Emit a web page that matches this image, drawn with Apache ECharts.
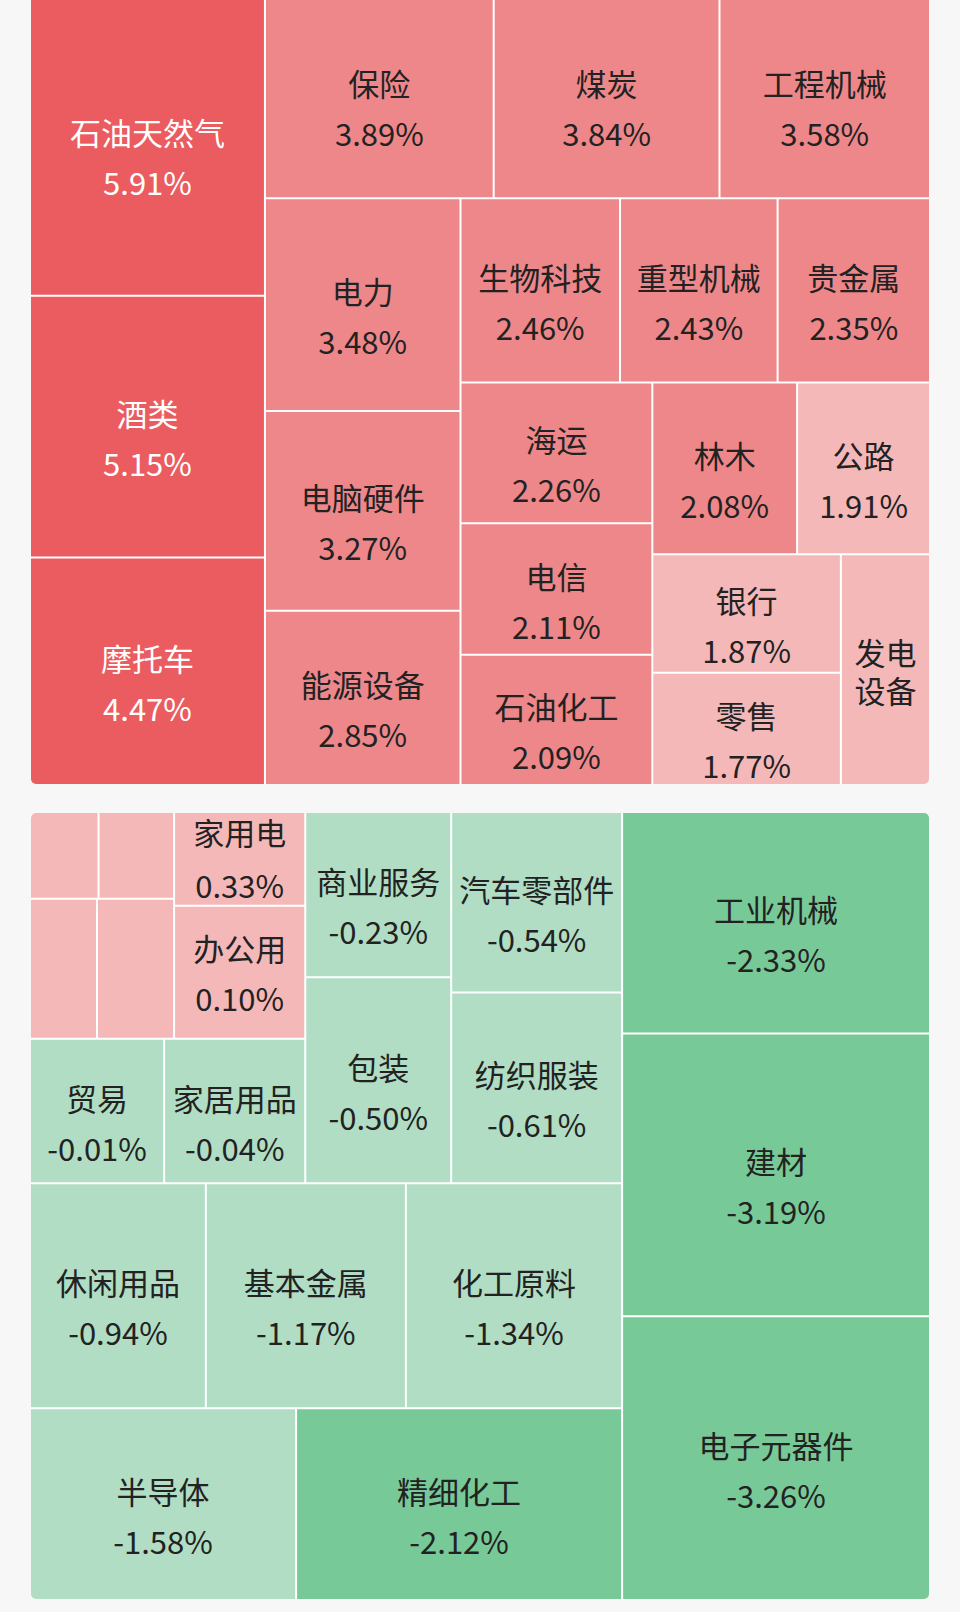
<!DOCTYPE html>
<html>
<head>
<meta charset="utf-8">
<script src="https://cdn.jsdelivr.net/npm/echarts@6/dist/echarts.min.js"></script>
<style>
  html, body { margin: 0; padding: 0; background: #f7f7f7; width: 960px; height: 1612px; overflow: hidden; }
  .box { position: absolute; left: 31px; width: 898px; border-radius: 5px; overflow: hidden; }
  #up { top: -4px; height: 788px; }
  #down { top: 813px; height: 786px; }
</style>
</head>
<body>
<div id="up" class="box"></div>
<div id="down" class="box"></div>
<script>
// ---------- Top map: sectors with the biggest gains (tile size = % change) ----------
const gainNames = ['石油天然气', '酒类', '摩托车', '保险', '煤炭', '工程机械', '电力', '电脑硬件', '能源设备',
  '生物科技', '重型机械', '贵金属', '海运', '电信', '石油化工', '林木', '公路', '银行', '零售', '发电设备'];
const gainPct = [5.91, 5.15, 4.47, 3.89, 3.84, 3.58, 3.48, 3.27, 2.85,
  2.46, 2.43, 2.35, 2.26, 2.11, 2.09, 2.08, 1.91, 1.87, 1.77, 1.72];

// ---------- Bottom map: the rest (tile size = weight) ----------
const restNames = ['工业机械', '建材', '电子元器件', '半导体', '精细化工', '休闲用品', '基本金属', '化工原料',
  '汽车零部件', '纺织服装', '商业服务', '包装', '贸易', '家居用品', '家用电', '办公用',
  '未标注1', '未标注2', '未标注3', '未标注4'];
const restPct = [-2.33, -3.19, -3.26, -1.58, -2.12, -0.94, -1.17, -1.34,
  -0.54, -0.61, -0.23, -0.50, -0.01, -0.04, 0.33, 0.10,
  0.63, 0.61, 0.47, 0.40];
const restWeight = [67.6, 86.3, 86.6, 50.6, 62.0, 39.2, 44.6, 48.2,
  30.6, 32.3, 23.9, 29.8, 19.2, 20.2, 12.2, 17.3,
  5.9, 6.5, 9.3, 10.7];
// grouping of the bottom map (indices into the arrays above)
const restGroups =
  [[[[[[[[[16, 17], [18, 19]], [14, 15]], [12, 13]], [10, 11]], [8, 9]], [5, 6, 7]], [3, 4]], [0, 1, 2]];

// label handling
const nameOnlyLabels = ['发电设备'];
const hiddenLabels = ['未标注1', '未标注2', '未标注3', '未标注4'];
const tightLabels = ['家用电'];
const centeredLabels = ['家用电', '办公用'];

function tileColor(v) {
  if (v >= 4) return '#EA5C60';
  if (v >= 2) return '#EE878A';
  if (v > 0) return '#F5B8B9';
  if (v > -2) return '#B0DDC3';
  return '#78C998';
}
function fmtPct(v) { return v.toFixed(2) + '%'; }

function leaf(name, pct, value) {
  const item = {
    name: name, value: value, pct: pct,
    itemStyle: { color: tileColor(pct) },
    label: { color: pct >= 4 ? '#ffffff' : '#222222' }
  };
  if (hiddenLabels.includes(name)) item.label.show = false;
  if (nameOnlyLabels.includes(name)) {
    item.label.overflow = 'break';
    item.label.lineHeight = 38;
    item.label.offset = [0, 1];
  }
  if (centeredLabels.includes(name)) item.label.offset = [0, 0];
  if (tightLabels.includes(name)) {
    item.label.lineHeight = 53;
    item.label.padding = [-12, 0, -12, 0];
    item.label.offset = [0, -1];
  }
  return item;
}

let gid = 0;
function build(node) {
  if (typeof node === 'number') return leaf(restNames[node], restPct[node], restWeight[node]);
  gid++;
  return { name: 'g' + gid, children: node.map(build) };
}

const gainData = gainNames.map((n, i) => leaf(n, gainPct[i], gainPct[i]));
const restData = restGroups.map(build);

function labelFormatter(p) {
  if (nameOnlyLabels.includes(p.name)) return p.name;
  return p.name + '\n' + fmtPct(p.data.pct);
}

function makeOption(data, sortMode) {
  return {
    animation: false,
    series: [{
      type: 'treemap',
      left: 0, top: 0, right: 0, bottom: 0,
      roam: false,
      nodeClick: false,
      silent: true,
      breadcrumb: { show: false },
      squareRatio: 1,
      sort: sortMode,
      itemStyle: { borderWidth: 0, gapWidth: 2, borderColor: '#ffffff' },
      upperLabel: { show: false },
      label: {
        show: true,
        position: 'inside',
        padding: 0,
        fontFamily: 'Noto Sans CJK SC',
        fontSize: 31,
        lineHeight: 50,
        align: 'center',
        verticalAlign: 'middle',
        offset: [0, 11],
        formatter: labelFormatter
      },
      data: data
    }]
  };
}

const upChart = echarts.init(document.getElementById('up'), null, { renderer: 'svg' });
upChart.setOption(makeOption(gainData, 'desc'));
const downChart = echarts.init(document.getElementById('down'), null, { renderer: 'svg' });
downChart.setOption(makeOption(restData, false));
</script>
</body>
</html>
